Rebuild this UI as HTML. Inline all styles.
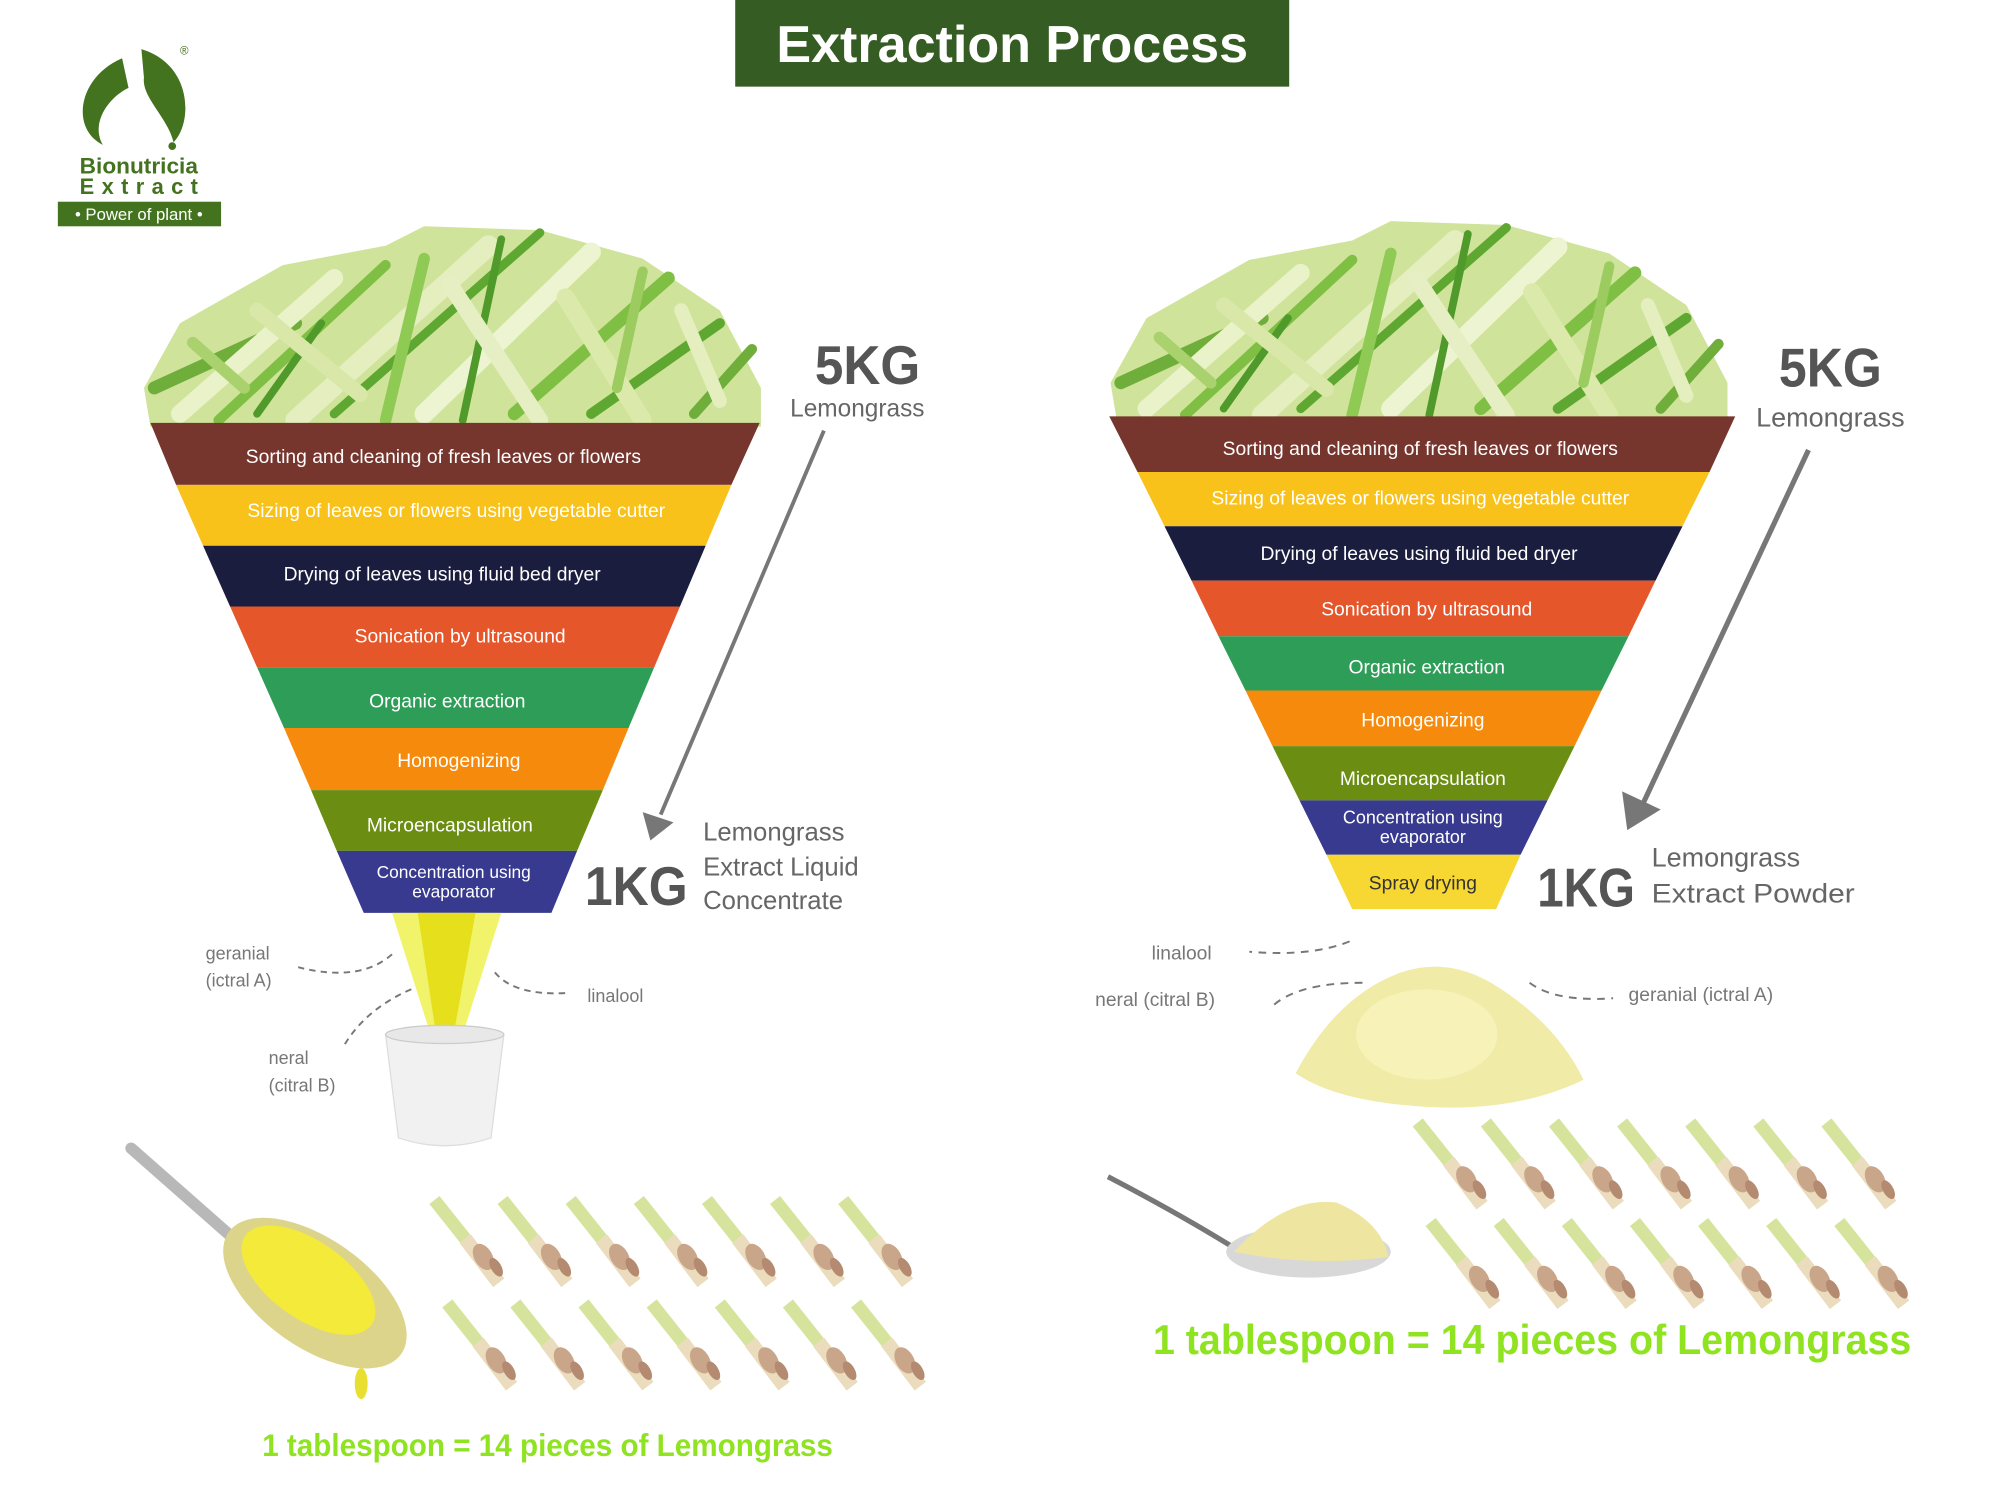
<!DOCTYPE html>
<html><head><meta charset="utf-8"><style>
html,body{margin:0;padding:0;background:#fff;}
svg{display:block;}
text{font-family:"Liberation Sans",sans-serif;}
</style></head><body>
<svg width="2000" height="1500" viewBox="0 0 1556 1160" preserveAspectRatio="none" xmlns="http://www.w3.org/2000/svg">
<defs>
<g id="grass">
<polygon points="112,300 140,250 220,205 300,190 330,175 420,178 500,200 560,240 592,300 592,330 117,330" fill="#cfe39a"/>
<g stroke-linecap="round" fill="none">
<path d="M120,300 L230,250" stroke="#6fae3a" stroke-width="10"/>
<path d="M140,320 L260,215" stroke="#e9f2c8" stroke-width="14"/>
<path d="M170,325 L300,205" stroke="#7fbf44" stroke-width="8"/>
<path d="M200,320 L250,250" stroke="#4f9a2a" stroke-width="6"/>
<path d="M230,325 L380,190" stroke="#e4eebf" stroke-width="16"/>
<path d="M260,320 L420,180" stroke="#5ea832" stroke-width="7"/>
<path d="M300,325 L330,200" stroke="#8fca55" stroke-width="9"/>
<path d="M330,320 L460,195" stroke="#edf4d2" stroke-width="15"/>
<path d="M360,325 L390,185" stroke="#4f9a2a" stroke-width="6"/>
<path d="M400,320 L520,215" stroke="#7fbf44" stroke-width="10"/>
<path d="M420,325 L350,220" stroke="#e6efc4" stroke-width="13"/>
<path d="M460,320 L560,250" stroke="#5ea832" stroke-width="8"/>
<path d="M500,325 L440,230" stroke="#dbe9aa" stroke-width="14"/>
<path d="M540,320 L585,270" stroke="#6fae3a" stroke-width="8"/>
<path d="M190,300 L150,265" stroke="#a9d26e" stroke-width="9"/>
<path d="M280,305 L200,240" stroke="#d9e8a8" stroke-width="12"/>
<path d="M480,300 L500,210" stroke="#9ccc60" stroke-width="8"/>
<path d="M560,310 L530,240" stroke="#e4eebf" stroke-width="11"/>
</g>
</g>
<g id="pc">
<line x1="0" y1="0" x2="24" y2="30" stroke="#d6e39c" stroke-width="10"/>
<line x1="24" y1="30" x2="50" y2="64" stroke="#eadcbc" stroke-width="11"/>
<ellipse cx="38" cy="44" rx="7" ry="11" fill="#c9a58a" transform="rotate(-30 38 44)"/>
<ellipse cx="48" cy="52" rx="4" ry="8" fill="#b48a70" transform="rotate(-30 48 52)"/>
</g>
<g id="row7">
<use href="#pc" x="0"/><use href="#pc" x="53"/><use href="#pc" x="106"/><use href="#pc" x="159"/><use href="#pc" x="212"/><use href="#pc" x="265"/><use href="#pc" x="318"/>
</g>
</defs>

<!-- title -->
<rect x="572" y="0" width="431" height="67" fill="#355c23"/>
<text x="604" y="48" font-size="40" font-weight="bold" fill="#fff" textLength="367" lengthAdjust="spacingAndGlyphs">Extraction Process</text>

<!-- logo -->
<path d="M95,45 C60,60 55,100 80,112 C70,95 85,75 100,68 Z" fill="#44731f"/>
<path d="M110,38 C150,50 150,95 135,110 C130,90 110,75 112,60 Z" fill="#44731f"/>
<circle cx="134" cy="113" r="3" fill="#44731f"/>
<text x="140" y="42" font-size="9" fill="#44731f">®</text>
<text x="62" y="134" font-size="17" font-weight="bold" fill="#44731f" textLength="92" lengthAdjust="spacingAndGlyphs">Bionutricia</text>
<text x="62" y="150" font-size="17" font-weight="bold" fill="#44731f" textLength="92" lengthAdjust="spacing">Extract</text>
<rect x="45" y="156" width="127" height="19" fill="#44731f"/>
<text x="108" y="170" font-size="13" fill="#fff" text-anchor="middle">• Power of plant •</text>

<!-- LEFT FUNNEL -->
<use href="#grass"/>
<g font-size="15" fill="#fff" text-anchor="middle">
<polygon points="117,327 591,327 569,375 137,375" fill="#76352d"/>
<polygon points="137,375 569,375 549,422 158,422" fill="#f8c21b"/>
<polygon points="158,422 549,422 529,469 179,469" fill="#1b1d3e"/>
<polygon points="179,469 529,469 509,516 200,516" fill="#e5562b"/>
<polygon points="200,516 509,516 489,563 221,563" fill="#2e9d58"/>
<polygon points="221,563 489,563 469,611 242,611" fill="#f68a0c"/>
<polygon points="242,611 469,611 449,658 262,658" fill="#6a8d12"/>
<polygon points="262,658 449,658 429,706 283,706" fill="#373a8f"/>
<text x="345" y="358">Sorting and cleaning of fresh leaves or flowers</text>
<text x="355" y="400">Sizing of leaves or flowers using vegetable cutter</text>
<text x="344" y="449">Drying of leaves using fluid bed dryer</text>
<text x="358" y="497">Sonication by ultrasound</text>
<text x="348" y="547">Organic extraction</text>
<text x="357" y="593">Homogenizing</text>
<text x="350" y="643">Microencapsulation</text>
<text x="353" y="679" font-size="13.5">Concentration using</text>
<text x="353" y="694" font-size="13.5">evaporator</text>
</g>
<text x="634" y="297" font-size="42" font-weight="bold" fill="#555" textLength="82" lengthAdjust="spacingAndGlyphs">5KG</text>
<text x="667" y="322" font-size="19" fill="#666" text-anchor="middle">Lemongrass</text>
<line x1="641" y1="333" x2="514" y2="630" stroke="#777" stroke-width="3"/>
<polygon points="500,628 524,636 506,650" fill="#777"/>
<text x="455" y="700" font-size="42" font-weight="bold" fill="#555" textLength="80" lengthAdjust="spacingAndGlyphs">1KG</text>
<g font-size="20" fill="#666"><text x="547" y="650">Lemongrass</text><text x="547" y="677">Extract Liquid</text><text x="547" y="703">Concentrate</text></g>
<!-- stream & bucket -->
<polygon points="305,706 390,706 360,800 335,800" fill="#f0f25a" opacity="0.9"/>
<polygon points="325,706 370,706 352,805 340,805" fill="#e6e01c"/>
<path d="M300,800 L392,800 L382,880 Q346,892 310,880 Z" fill="#f1f1f1" stroke="#ddd"/>
<ellipse cx="346" cy="800" rx="46" ry="7" fill="#e8e8e8" stroke="#ccc"/>
<g font-size="14" fill="#777">
<text x="160" y="742">geranial</text><text x="160" y="763">(ictral A)</text>
<text x="209" y="823">neral</text><text x="209" y="844">(citral B)</text>
<text x="457" y="775">linalool</text>
</g>
<g stroke="#777" stroke-width="1.5" stroke-dasharray="5,4" fill="none">
<path d="M305,738 Q280,760 232,748"/><path d="M320,765 Q285,780 268,808"/><path d="M385,752 Q400,770 440,768"/>
</g>
<!-- spoon left -->
<line x1="102" y1="888" x2="190" y2="965" stroke="#b8b8b8" stroke-width="9" stroke-linecap="round"/>
<ellipse cx="245" cy="1000" rx="82" ry="42" fill="#dcd48a" transform="rotate(35 245 1000)"/>
<ellipse cx="240" cy="990" rx="60" ry="30" fill="#f3ea3a" transform="rotate(35 240 990)"/>
<ellipse cx="281" cy="1070" rx="5" ry="12" fill="#e8df30"/>
<use href="#row7" x="338" y="928"/>
<use href="#row7" x="348" y="1008"/>
<text x="204" y="1126" font-size="24" font-weight="bold" fill="#8fe320" textLength="444" lengthAdjust="spacingAndGlyphs">1 tablespoon = 14 pieces of Lemongrass</text>

<!-- RIGHT FUNNEL -->
<use href="#grass" transform="translate(752,-4)"/>
<g font-size="15" fill="#fff" text-anchor="middle">
<polygon points="863,322 1350,322 1330,365 885,365" fill="#76352d"/>
<polygon points="885,365 1330,365 1309,407 906,407" fill="#f8c21b"/>
<polygon points="906,407 1309,407 1288,449 927,449" fill="#1b1d3e"/>
<polygon points="927,449 1288,449 1267,492 948,492" fill="#e5562b"/>
<polygon points="948,492 1267,492 1246,534 969,534" fill="#2e9d58"/>
<polygon points="969,534 1246,534 1225,577 990,577" fill="#f68a0c"/>
<polygon points="990,577 1225,577 1204,619 1011,619" fill="#6a8d12"/>
<polygon points="1011,619 1204,619 1183,661 1032,661" fill="#373a8f"/>
<polygon points="1032,661 1183,661 1164,703 1052,703" fill="#f7d731"/>
<text x="1105" y="352">Sorting and cleaning of fresh leaves or flowers</text>
<text x="1105" y="390">Sizing of leaves or flowers using vegetable cutter</text>
<text x="1104" y="433">Drying of leaves using fluid bed dryer</text>
<text x="1110" y="476">Sonication by ultrasound</text>
<text x="1110" y="521">Organic extraction</text>
<text x="1107" y="562">Homogenizing</text>
<text x="1107" y="607">Microencapsulation</text>
<text x="1107" y="637" font-size="14">Concentration using</text>
<text x="1107" y="652" font-size="14">evaporator</text>
<text x="1107" y="688" fill="#333">Spray drying</text>
</g>
<text x="1384" y="299" font-size="42" font-weight="bold" fill="#555" textLength="80" lengthAdjust="spacingAndGlyphs">5KG</text>
<text x="1424" y="330" font-size="21" fill="#666" text-anchor="middle">Lemongrass</text>
<line x1="1407" y1="348" x2="1278" y2="622" stroke="#777" stroke-width="4"/>
<polygon points="1262,612 1292,626 1266,642" fill="#777"/>
<text x="1196" y="701" font-size="42" font-weight="bold" fill="#555" textLength="76" lengthAdjust="spacingAndGlyphs">1KG</text>
<g font-size="21" fill="#666"><text x="1285" y="670">Lemongrass</text><text x="1285" y="698" textLength="158" lengthAdjust="spacingAndGlyphs">Extract  Powder</text></g>
<!-- powder -->
<path d="M1008,830 Q1040,770 1090,752 Q1125,740 1160,760 Q1210,790 1232,835 Q1180,860 1110,856 Q1040,852 1008,830 Z" fill="#f0eba6"/>
<ellipse cx="1110" cy="800" rx="55" ry="35" fill="#f6f2b8"/>
<g font-size="15" fill="#777">
<text x="896" y="742">linalool</text><text x="852" y="778">neral (citral B)</text><text x="1267" y="774">geranial (ictral A)</text>
</g>
<g stroke="#777" stroke-width="1.5" stroke-dasharray="6,5" fill="none">
<path d="M1050,728 Q1020,740 972,736"/><path d="M1060,760 Q1010,760 990,778"/><path d="M1190,760 Q1210,775 1255,772"/>
</g>
<!-- spoon right -->
<path d="M862,910 Q920,940 965,968" stroke="#777" stroke-width="4" fill="none"/>
<ellipse cx="1018" cy="968" rx="64" ry="20" fill="#d8d8d8"/>
<path d="M960,968 Q1000,925 1040,930 Q1075,945 1080,972 Q1020,980 960,968 Z" fill="#eee6a0"/>
<use href="#row7" x="1103" y="868"/>
<use href="#row7" x="1113" y="945"/>
<text x="897" y="1047" font-size="32" font-weight="bold" fill="#8fe320" textLength="590" lengthAdjust="spacingAndGlyphs">1 tablespoon = 14 pieces of Lemongrass</text>
</svg>
</body></html>
